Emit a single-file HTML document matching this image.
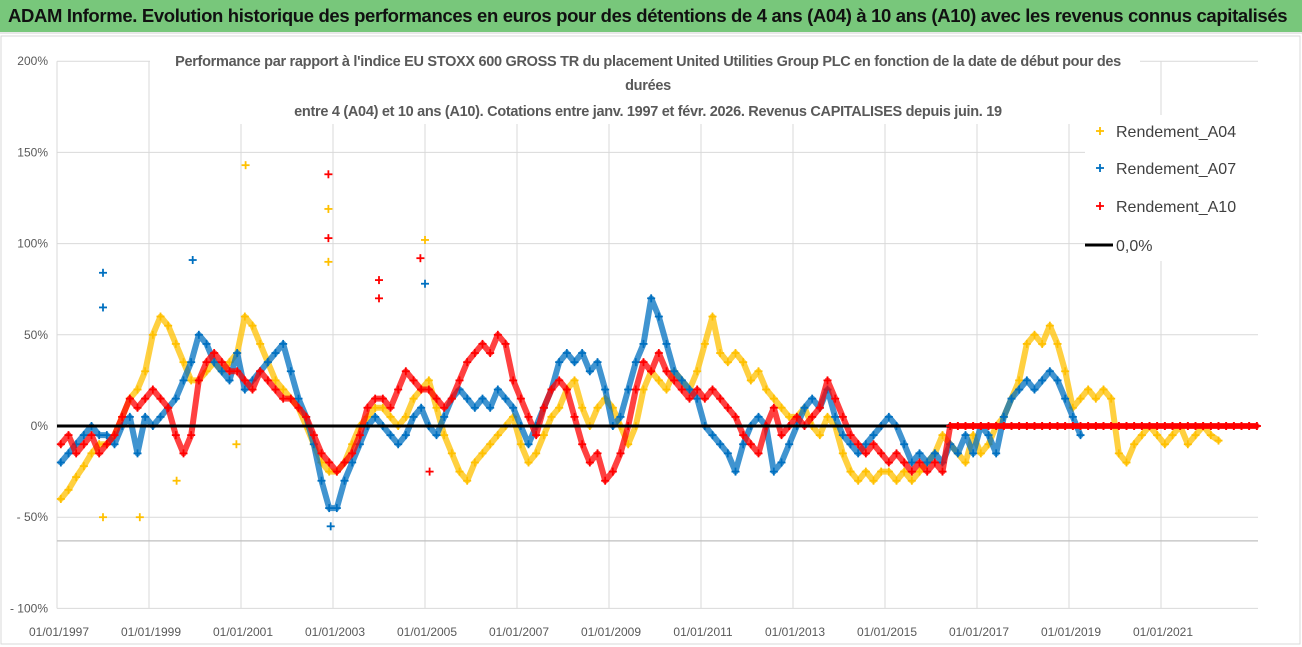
<!DOCTYPE html>
<html><head><meta charset="utf-8">
<style>
html,body{margin:0;padding:0;background:#fff;}
body{width:1302px;height:647px;overflow:hidden;position:relative;font-family:"Liberation Sans",sans-serif;}
#hdr{position:absolute;left:0;top:0;width:1302px;height:32px;background:#78C77B;border-bottom:2px solid #e8e8e8;}
#hdr span{position:absolute;left:8px;top:5px;font-size:18.5px;font-weight:bold;color:#111;white-space:nowrap;letter-spacing:-0.35px;}
svg{position:absolute;left:0;top:0;}
</style></head><body>
<div id="hdr"><span>ADAM Informe. Evolution historique des performances en euros pour des détentions de 4 ans (A04) à 10 ans (A10) avec les revenus connus capitalisés</span></div>
<svg id="chart" width="1302" height="647"></svg>
<script>
// bimonthly values (%) starting Jan 1997
const a04 = [-40,-35,-28,-22,-15,-10, -10,-5,5,15,20,30, 50,60,55,45,35,25, 25,30,35,30,35,40, 60,55,45,35,25,20, 15,10,0,-10,-20,-25, -25,-20,-10,0,5,10, 10,5,0,5,15,20, 25,10,-5,-15,-25,-30, -20,-15,-10,-5,0,5, -10,-20,-15,-5,5,10, 20,25,10,0,10,15, 10,0,-10,0,20,30, 25,20,30,25,20,30, 45,60,40,35,40,35, 25,30,20,15,10,5, 5,10,0,-5,5,0, -15,-25,-30,-25,-30,-25, -25,-30,-25,-30,-25,-20, -15,-5,-10,-15,-20,-5, -15,-10,0,5,15,25, 45,50,45,55,45,30, 10,15,20,15,20,15, -15,-20,-10,-5,0,-5, -10,-5,0,-10,-5,0, -5,-8];
const a07 = [-20,-15,-10,-5,0,-5, -5,-10,0,5,-15,5, 0,5,10,15,25,35, 50,45,35,30,25,40, 20,25,30,35,40,45, 30,15,5,-10,-30,-45, -45,-30,-20,-10,0,5, 0,-5,-10,-5,5,10, 0,-5,5,15,20,15, 10,15,10,20,15,10, 0,-10,0,10,20,35, 40,35,40,30,35,20, 0,5,20,35,45,70, 60,45,30,25,20,15, 0,-5,-10,-15,-25,-10, 0,5,0,-25,-20,-10, 0,10,15,10,20,5, -5,-10,-15,-10,-5,0, 5,0,-10,-20,-15,-20, -15,-20,-10,-15,-5,-15, 0,-5,-15,5,15,20, 25,20,25,30,25,15, 5,-5];
const a10 = [-10,-5,-15,-10,-5,-15, -10,-5,5,15,10,15, 20,15,10,-5,-15,-5, 25,35,40,35,30,30, 25,20,30,25,20,15, 15,10,5,-5,-15,-20, -25,-20,-15,-5,10,15, 15,10,20,30,25,20, 20,15,10,15,25,35, 40,45,40,50,45,25, 15,5,-5,10,20,25, 20,5,-10,-20,-15,-30, -25,-15,0,20,35,30, 40,30,25,20,15,20, 15,20,15,10,5,-5, -10,-15,0,10,-5,0, 5,0,5,10,25,15, 5,-5,-10,-15,-10,-15, -20,-15,-20,-25,-20,-25, -20,-25,0,0,0,0, 0,0,0,0,0,0, 0,0,0,0,0,0, 0,0,0,0,0,0, 0,0,0,0,0,0, 0,0,0,0,0,0, 0,0,0,0,0,0, 0];
const out04Years = [2001.1,2002.9,2002.9,2005.0,1998.0,1998.8,2000.9,1999.6];
const out04Vals = [143,119,90,102,-50,-50,-10,-30];
const out07Years = [1998.0,1998.0,1999.95,2005.0,2002.95];
const out07Vals = [84,65,91,78,-55];
const out10Years = [2002.9,2002.9,2004.0,2004.0,2004.9,2005.1];
const out10Vals = [138,103,80,70,92,-25];
const yTicks = [200,150,100,50,0,-50,-100];
const yTickLabels = ["200%","150%","100%","50%","0%","- 50%","- 100%"];
const xTicks = [1997,1999,2001,2003,2005,2007,2009,2011,2013,2015,2017,2019,2021];
const xTickLabels = ["01/01/1997","01/01/1999","01/01/2001","01/01/2003","01/01/2005","01/01/2007","01/01/2009","01/01/2011","01/01/2013","01/01/2015","01/01/2017","01/01/2019","01/01/2021"];

const NS="http://www.w3.org/2000/svg";
const svg=document.getElementById('chart');
const X0=57,X1=1258,PXY=46;
function xs(yr){return X0+(yr-1997)*PXY;}
function ys(v){return 426-v*1.824;}
function mk(tag,attrs,parent){const e=document.createElementNS(NS,tag);for(const k in attrs)e.setAttribute(k,attrs[k]);(parent||svg).appendChild(e);return e;}

mk('rect',{x:1,y:36,width:1299,height:608,fill:'#fff',stroke:'#d9d9d9'});
yTicks.forEach((t,i)=>{
  const g=mk('line',{x1:X0,x2:X1,y1:ys(t),y2:ys(t),stroke:'#d9d9d9','stroke-width':1});
  
  
  const l=mk('text',{x:48,y:ys(t)+4,'text-anchor':'end','font-size':12,fill:'#595959','font-family':'Liberation Sans, sans-serif'});
  l.textContent=yTickLabels[i];
  
  
});
xTicks.forEach((t,i)=>{
  const g=mk('line',{x1:xs(t),x2:xs(t),y1:ys(200),y2:ys(-100),stroke:'#d9d9d9','stroke-width':1});
  
  
  const l=mk('text',{x:xs(t)+2,y:636,'text-anchor':'middle','font-size':12,fill:'#595959','font-family':'Liberation Sans, sans-serif'});
  l.textContent=xTickLabels[i];
  
  
});
const ax=mk('line',{x1:X0,x2:X1,y1:ys(-63),y2:ys(-63),stroke:'#bfbfbf','stroke-width':1.2});



function plus(g,x,y,c){
  mk('line',{x1:x-4,x2:x+4,y1:y,y2:y,stroke:c,'stroke-width':1.8},g);
  mk('line',{x1:x,x2:x,y1:y-4,y2:y+4,stroke:c,'stroke-width':1.8},g);
}
function series(vals,oy,ov,c,name){
  const g=mk('g',{});
  
  
  const pts=vals.map((v,i)=>xs(1997+i/6+1/12).toFixed(1)+','+ys(v).toFixed(1)).join(' ');
  mk('polyline',{points:pts,fill:'none',stroke:c,'stroke-width':6,'stroke-opacity':0.75,'stroke-linejoin':'round','stroke-linecap':'round'},g);
  vals.forEach((v,i)=>plus(g,xs(1997+i/6+1/12),ys(v),c));
  oy.forEach((yr,i)=>plus(g,xs(yr),ys(ov[i]),c));
}
series(a04,out04Years,out04Vals,'#FFC000','series-a04');
series(a07,out07Years,out07Vals,'#0070C0','series-a07');
series(a10,out10Years,out10Vals,'#FF0000','series-a10');
const zl=mk('line',{x1:X0,x2:X1,y1:ys(0),y2:ys(0),stroke:'#000','stroke-width':3});


const gz=mk('g',{});


const zpts=[];
a10.forEach((v,i)=>{const yr=1997+i/6+1/12; if(v===0&&yr>2016){zpts.push(xs(yr).toFixed(1)+','+ys(v).toFixed(1));plus(gz,xs(yr),ys(v),'#FF0000');}});
mk('polyline',{points:zpts.join(' '),fill:'none',stroke:'#FF0000','stroke-width':5},gz);

const tb=mk('rect',{x:150,y:44,width:990,height:80,fill:'#fff'});


[["Performance par rapport à l'indice EU STOXX 600 GROSS TR  du placement United Utilities Group PLC en fonction de la date de début pour des",66],["durées",90],["entre 4 (A04) et 10 ans (A10).  Cotations entre janv. 1997 et févr. 2026. Revenus CAPITALISES depuis juin. 19",116]].forEach(([t,y])=>{
  const e=mk('text',{x:648,y:y,'text-anchor':'middle','font-size':14.5,'font-weight':'bold',fill:'#595959','font-family':'Liberation Sans, sans-serif','letter-spacing':'-0.3'});
  e.textContent=t;
  
  
});
const lb=mk('rect',{x:1085,y:115,width:212,height:146,fill:'#fff'});


[["Rendement_A04",'#FFC000',132],["Rendement_A07",'#0070C0',169],["Rendement_A10",'#FF0000',207]].forEach(([t,c,y])=>{
  const g=mk('g',{});
  
  
  plus(g,1100,y-1,c);
  const e=mk('text',{x:1116,y:y+5,'font-size':16,fill:'#404040','font-family':'Liberation Sans, sans-serif'},g);
  e.textContent=t;
});
const lg=mk('g',{});


mk('line',{x1:1085,x2:1113,y1:245,y2:245,stroke:'#000','stroke-width':3},lg);
const lt=mk('text',{x:1116,y:251,'font-size':16,fill:'#404040','font-family':'Liberation Sans, sans-serif'},lg);
lt.textContent='0,0%';
</script>
</body></html>
